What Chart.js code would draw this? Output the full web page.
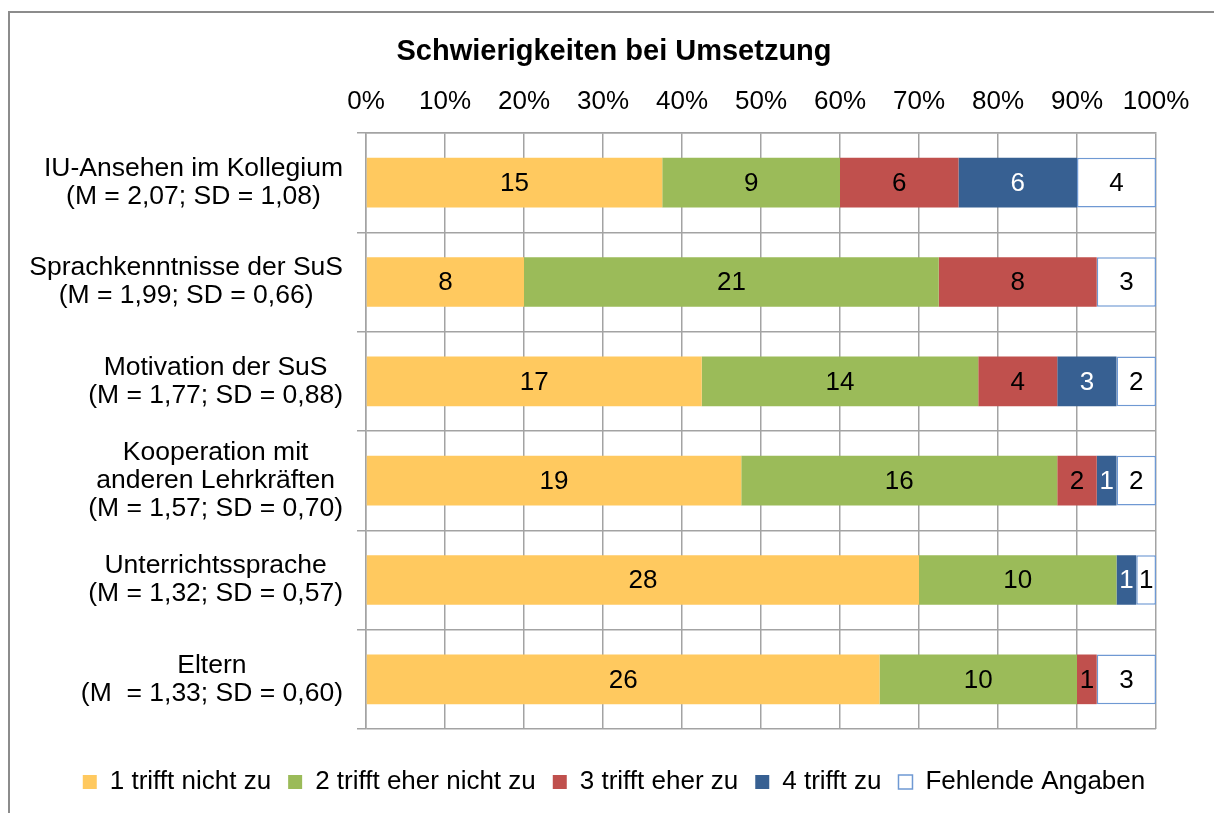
<!DOCTYPE html>
<html>
<head>
<meta charset="utf-8">
<title>Schwierigkeiten bei Umsetzung</title>
<script src="https://cdn.jsdelivr.net/npm/chart.js@4.4.1/dist/chart.umd.min.js"></script>
<style>
  html, body { margin: 0; padding: 0; background: #fff; }
  canvas { display: block; }
</style>
</head>
<body>
<canvas id="umsetzungChart" width="1214" height="813"></canvas>
<script>
// Kategorien (mehrzeilig), von oben nach unten
const kategorien = [
  ['IU-Ansehen im Kollegium', '(M = 2,07; SD = 1,08)'],
  ['Sprachkenntnisse der SuS', '(M = 1,99; SD = 0,66)'],
  ['Motivation der SuS', '(M = 1,77; SD = 0,88)'],
  ['Kooperation mit', 'anderen Lehrkräften', '(M = 1,57; SD = 0,70)'],
  ['Unterrichtssprache', '(M = 1,32; SD = 0,57)'],
  ['Eltern', '(M  = 1,33; SD = 0,60)']
];

// Anzahl Nennungen je Antwortkategorie
const trifftNichtZu = [15, 8, 17, 19, 28, 26];
const trifftEherNichtZu = [9, 21, 14, 16, 10, 10];
const trifftEherZu = [6, 8, 4, 2, 0, 1];
const trifftZu = [6, 0, 3, 1, 1, 0];
const fehlendeAngaben = [4, 3, 2, 2, 1, 3];

const xTicks = [0, 10, 20, 30, 40, 50, 60, 70, 80, 90, 100];

const schrift = '"Liberation Sans", Arial, sans-serif';
Chart.defaults.font.family = schrift;
Chart.defaults.color = '#000';

const summen = kategorien.map((k, i) =>
  trifftNichtZu[i] + trifftEherNichtZu[i] + trifftEherZu[i] + trifftZu[i] + fehlendeAngaben[i]);
const prozent = arr => arr.map((v, i) => v / summen[i] * 100);

const gitterFarbe = '#A3A3A3';

// Rahmen um das ganze Diagramm
const rahmenPlugin = {
  id: 'rahmen',
  beforeDraw(chart) {
    const ctx = chart.ctx;
    ctx.save();
    ctx.strokeStyle = '#8C8C8C';
    ctx.lineWidth = 2;
    ctx.strokeRect(9, 12, 1400, 1000);
    ctx.restore();
  }
};

// Kategorienbeschriftung: Zeilen zentriert, Block rechtsbündig
const kategorienPlugin = {
  id: 'kategorienText',
  afterDraw(chart) {
    const ctx = chart.ctx;
    const yAchse = chart.scales.y;
    const rechts = yAchse.right - 23;
    ctx.save();
    ctx.font = '26.5px ' + schrift;
    ctx.fillStyle = '#000';
    ctx.textAlign = 'center';
    ctx.textBaseline = 'middle';
    kategorien.forEach((zeilen, i) => {
      const yMitte = yAchse.getPixelForTick(i);
      const breite = Math.max(...zeilen.map(z => ctx.measureText(z).width));
      const xMitte = rechts - breite / 2;
      zeilen.forEach((z, j) => {
        ctx.fillText(z, xMitte, yMitte + (j - (zeilen.length - 1) / 2) * 28);
      });
    });
    ctx.restore();
  }
};

// Werte (Anzahl) in die Balken schreiben
const werte = [trifftNichtZu, trifftEherNichtZu, trifftEherZu, trifftZu, fehlendeAngaben];
const wertFarben = ['#000', '#000', '#000', '#fff', '#000'];
const wertePlugin = {
  id: 'werte',
  afterDatasetsDraw(chart) {
    const ctx = chart.ctx;
    ctx.save();
    ctx.font = '26px ' + schrift;
    ctx.textAlign = 'center';
    ctx.textBaseline = 'middle';
    chart.data.datasets.forEach((ds, d) => {
      chart.getDatasetMeta(d).data.forEach((bar, i) => {
        const n = werte[d][i];
        if (!n) return;
        ctx.fillStyle = wertFarben[d];
        ctx.fillText(String(n), (bar.x + bar.base) / 2, bar.y + 1);
      });
    });
    ctx.restore();
  }
};

new Chart(document.getElementById('umsetzungChart'), {
  type: 'bar',
  data: {
    labels: kategorien,
    datasets: [
      { label: '1 trifft nicht zu', data: prozent(trifftNichtZu), backgroundColor: '#FFC95F', borderWidth: 0 },
      { label: '2 trifft eher nicht zu', data: prozent(trifftEherNichtZu), backgroundColor: '#9BBB59', borderWidth: 0 },
      { label: '3 trifft eher zu', data: prozent(trifftEherZu), backgroundColor: '#C0504D', borderWidth: 0 },
      { label: '4 trifft zu', data: prozent(trifftZu), backgroundColor: '#376092', borderWidth: 0 },
      { label: 'Fehlende Angaben', data: prozent(fehlendeAngaben), backgroundColor: '#FFFFFF',
        borderColor: '#6F99D3', borderWidth: 1.5, borderSkipped: false }
    ]
  },
  options: {
    indexAxis: 'y',
    responsive: false,
    animation: false,
    categoryPercentage: 1,
    barPercentage: 0.5,
    layout: { padding: { top: 24, left: 40, right: 26, bottom: 8 } },
    plugins: {
      title: {
        display: true,
        text: 'Schwierigkeiten bei Umsetzung',
        color: '#000',
        font: { size: 29, weight: 'bold' },
        padding: { top: 10.6, bottom: 0 }
      },
      legend: {
        position: 'bottom',
        labels: {
          font: { size: 26 },
          color: '#000',
          boxWidth: 14,
          boxHeight: 14,
          padding: 17
        }
      },
      tooltip: { enabled: false }
    },
    scales: {
      x: {
        position: 'top',
        stacked: true,
        min: 0,
        max: 100,
        afterBuildTicks: s => { s.ticks = xTicks.map(v => ({ value: v })); },
        afterFit: s => { s.height = 63.6; },
        ticks: {
          font: { size: 26 },
          color: '#000',
          padding: 16,
          callback: v => v + '%'
        },
        grid: { color: gitterFarbe, lineWidth: 1.5, drawTicks: false },
        border: { display: true, color: gitterFarbe, width: 1.5 }
      },
      y: {
        stacked: true,
        afterFit: s => { s.width = 326; },
        ticks: { display: false },
        grid: { color: gitterFarbe, lineWidth: 1.5, offset: true, drawTicks: true, tickLength: 9 },
        border: { display: true, color: gitterFarbe, width: 1.5 }
      },
      xAbstand: {
        type: 'linear',
        position: 'bottom',
        display: true,
        afterFit: s => { s.height = 23; },
        ticks: { display: false },
        grid: { display: false },
        border: { display: false }
      },
      yAbstand: {
        type: 'linear',
        position: 'right',
        display: true,
        afterFit: s => { s.width = 32; },
        ticks: { display: false },
        grid: { display: false },
        border: { display: false }
      }
    }
  },
  plugins: [rahmenPlugin, wertePlugin, kategorienPlugin]
});
</script>
</body>
</html>
